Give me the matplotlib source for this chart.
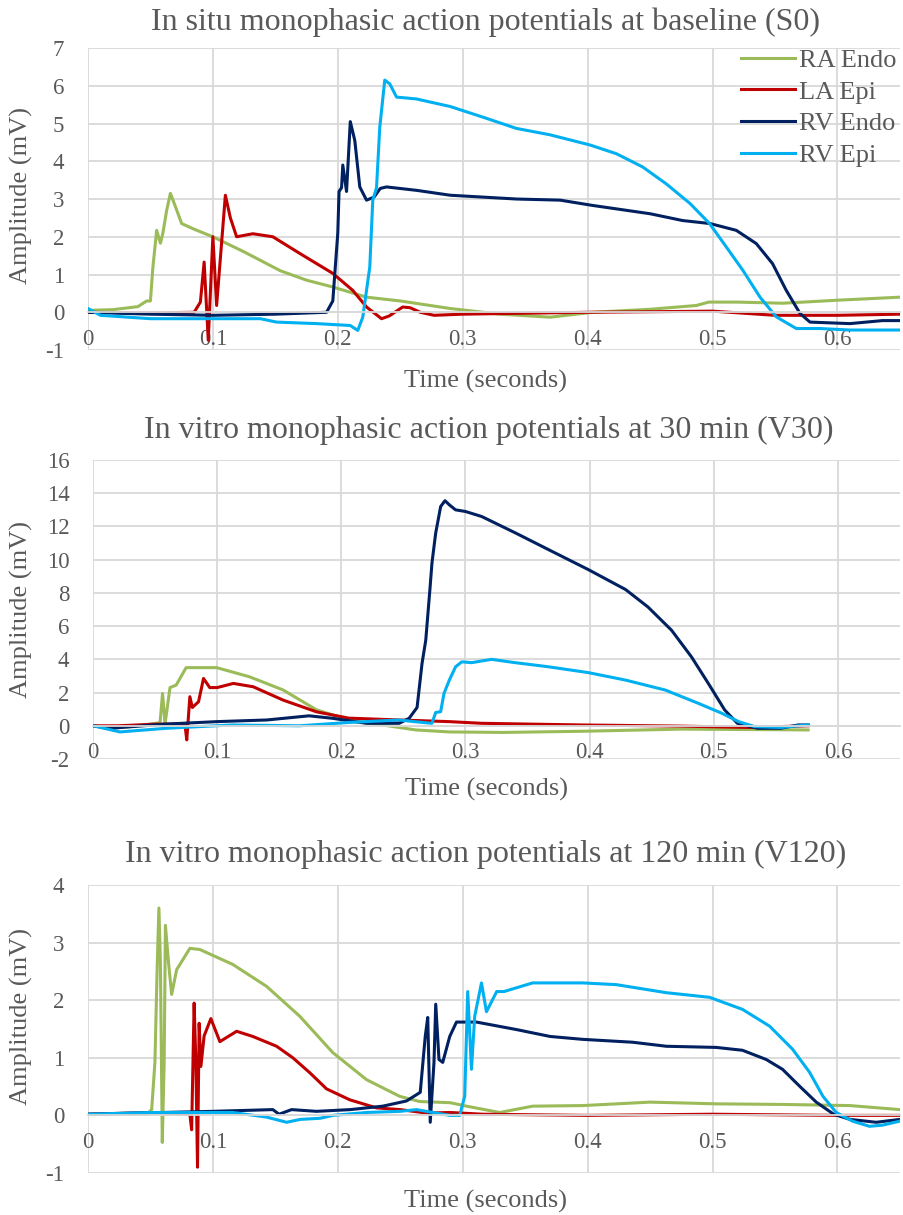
import matplotlib
matplotlib.use('Agg')
import matplotlib.pyplot as plt
import numpy as np

# font ustawienia - Times-like, zwykły minus jak w Excelu
plt.rcParams['font.family'] = ['Liberation Serif', 'DejaVu Serif']
plt.rcParams['axes.unicode_minus'] = False

# ------------------------------------------------------------- dane
series_names = ['RA Endo', 'LA Epi', 'RV Endo', 'RV Epi']
series_colors = ['#9BBB59', '#C00000', '#002060', '#00B0F0']

titles = ['In situ monophasic action potentials at baseline (S0)',
          'In vitro monophasic action potentials at 30 min (V30)',
          'In vitro monophasic action potentials at 120 min (V120)']
x_ticks = [0, 0.1, 0.2, 0.3, 0.4, 0.5, 0.6]
x_tick_labels = ['0', '0.1', '0.2', '0.3', '0.4', '0.5', '0.6']
y_ticks_s0 = [-1, 0, 1, 2, 3, 4, 5, 6, 7]
y_ticks_v30 = [-2, 0, 2, 4, 6, 8, 10, 12, 14, 16]
y_ticks_v120 = [-1, 0, 1, 2, 3, 4]

# S0 - baseline
s0_ra_t = [0, 0.02, 0.04, 0.047, 0.050, 0.052, 0.055, 0.058, 0.060, 0.063, 0.066, 0.070, 0.075, 0.085, 0.1,
           0.125, 0.154, 0.175, 0.196, 0.223, 0.25, 0.29, 0.33, 0.37, 0.404, 0.45, 0.487, 0.497, 0.52, 0.556,
           0.6, 0.65]
s0_ra_v = [0.05, 0.07, 0.15, 0.3, 0.3, 1.2, 2.17, 1.83, 2.1, 2.7, 3.15, 2.8, 2.35, 2.2, 2.0,
           1.6, 1.1, 0.85, 0.67, 0.4, 0.3, 0.1, -0.05, -0.13, 0.0, 0.08, 0.18, 0.27, 0.27, 0.24,
           0.32, 0.4]
s0_la_t = [0, 0.04, 0.085, 0.09, 0.093, 0.0963, 0.1, 0.103, 0.11, 0.114, 0.119, 0.132, 0.148, 0.17, 0.196,
           0.212, 0.223, 0.235, 0.241, 0.252, 0.258, 0.266, 0.277, 0.3, 0.4, 0.5, 0.55, 0.6, 0.65]
s0_la_v = [0, -0.02, 0.0, 0.27, 1.33, -0.74, 2.0, 0.18, 3.1, 2.5, 2.0, 2.08, 2.0, 1.55, 1.03,
           0.58, 0.14, -0.17, -0.1, 0.14, 0.12, 0.0, -0.08, -0.05, 0.0, 0.03, -0.08, -0.08, -0.05]
s0_rvendo_t = [0, 0.05, 0.1, 0.15, 0.191, 0.196, 0.2, 0.201, 0.203, 0.204, 0.207, 0.21, 0.2136, 0.2176, 0.223,
               0.229, 0.234, 0.239, 0.263, 0.29, 0.343, 0.378, 0.404, 0.45, 0.476, 0.498, 0.519, 0.535, 0.548,
               0.559, 0.57, 0.578, 0.61, 0.636, 0.65]
s0_rvendo_v = [0.0, -0.05, -0.08, -0.05, 0.0, 0.3, 2.1, 3.2, 3.3, 3.9, 3.2, 5.05, 4.55, 3.32, 2.97,
               3.05, 3.28, 3.32, 3.23, 3.1, 3.0, 2.97, 2.83, 2.61, 2.43, 2.35, 2.17, 1.82, 1.29,
               0.58, -0.03, -0.26, -0.3, -0.22, -0.22]
s0_rvepi_t = [0, 0.01, 0.05, 0.1, 0.138, 0.151, 0.183, 0.21, 0.216, 0.22, 0.2256, 0.228, 0.231, 0.2336, 0.2376,
              0.2416, 0.247, 0.263, 0.29, 0.316, 0.343, 0.37, 0.402, 0.423, 0.444, 0.463, 0.482, 0.4976, 0.511,
              0.5245, 0.538, 0.551, 0.567, 0.586, 0.61, 0.65]
s0_rvepi_v = [0.1, -0.08, -0.17, -0.17, -0.17, -0.26, -0.3, -0.35, -0.48, -0.13, 1.2, 2.97, 3.3, 4.9, 6.15,
              6.05, 5.7, 5.65, 5.45, 5.17, 4.87, 4.7, 4.43, 4.2, 3.85, 3.4, 2.88, 2.35, 1.73,
              1.1, 0.4, -0.12, -0.43, -0.43, -0.47, -0.47]

# V30
v30_ra_t = [0, 0.014, 0.03, 0.051, 0.054, 0.056, 0.058, 0.062, 0.067, 0.075, 0.0996, 0.126, 0.153, 0.18,
            0.206, 0.233, 0.26, 0.287, 0.33, 0.394, 0.474, 0.576]
v30_ra_v = [0, -0.15, -0.05, 0.15, 0.2, 1.95, 0.1, 2.3, 2.45, 3.5, 3.5, 2.95, 2.16, 0.96,
            0.35, 0.05, -0.25, -0.37, -0.4, -0.33, -0.2, -0.25]
v30_la_t = [0, 0.02, 0.051, 0.074, 0.0755, 0.078, 0.08, 0.085, 0.089, 0.094, 0.1, 0.113, 0.129, 0.153, 0.18,
            0.206, 0.2466, 0.287, 0.313, 0.394, 0.474, 0.528, 0.576]
v30_la_v = [0, 0.0, 0.1, 0.1, -0.85, 1.75, 1.1, 1.45, 2.85, 2.3, 2.3, 2.55, 2.35, 1.55, 0.84,
            0.46, 0.35, 0.25, 0.15, 0.05, -0.02, -0.1, 0]
v30_rvendo_t = [0, 0.014, 0.058, 0.0996, 0.14, 0.174, 0.193, 0.22, 0.2466, 0.2546, 0.261, 0.265, 0.268, 0.2715,
                0.273, 0.276, 0.28, 0.2835, 0.287, 0.292, 0.3, 0.313, 0.3405, 0.367, 0.399, 0.429, 0.447, 0.466,
                0.482, 0.4956, 0.5088, 0.519, 0.535, 0.554, 0.568, 0.576]
v30_rvendo_v = [0, -0.15, 0.1, 0.25, 0.35, 0.6, 0.45, 0.15, 0.15, 0.45, 1.1, 3.75, 5.15, 8.35,
                9.8, 11.6, 13.2, 13.55, 13.3, 13.0, 12.9, 12.6, 11.6, 10.6, 9.4, 8.2, 7.15, 5.75,
                4.15, 2.55, 0.95, 0.15, -0.15, -0.15, 0.05, 0.05]
v30_rvepi_t = [0, 0.0217, 0.059, 0.112, 0.166, 0.206, 0.2466, 0.2587, 0.273, 0.276, 0.28, 0.2827, 0.287, 0.292,
               0.297, 0.305, 0.321, 0.34, 0.367, 0.399, 0.429, 0.461, 0.4876, 0.506, 0.52, 0.533, 0.554, 0.576]
v30_rvepi_v = [0, -0.37, -0.15, 0.05, 0.0, 0.2, 0.35, 0.25, 0.15, 0.8, 0.85, 1.95, 2.75, 3.55,
               3.85, 3.8, 4.0, 3.8, 3.55, 3.2, 2.75, 2.15, 1.35, 0.77, 0.25, -0.05, -0.1, 0.05]

# V120
v120_ra_t = [0, 0.047, 0.051, 0.0536, 0.0555, 0.0568, 0.058, 0.0595, 0.061, 0.062, 0.0645, 0.067, 0.071, 0.0816,
             0.0896, 0.116, 0.143, 0.1696, 0.196, 0.223, 0.2496, 0.2656, 0.29, 0.303, 0.3296, 0.356, 0.396, 0.45,
             0.503, 0.556, 0.61, 0.65]
v120_ra_v = [0.02, 0.02, 0.1, 0.92, 2.65, 3.6, 2.65, -0.47, 0.92, 3.3, 2.65, 2.1, 2.53, 2.9,
             2.88, 2.62, 2.24, 1.72, 1.09, 0.62, 0.33, 0.24, 0.22, 0.16, 0.05, 0.16, 0.17, 0.23,
             0.2, 0.19, 0.17, 0.1]
v120_la_t = [0, 0.05, 0.0816, 0.083, 0.085, 0.0864, 0.0877, 0.089, 0.0904, 0.093, 0.0984, 0.1056, 0.119, 0.132,
             0.151, 0.164, 0.1776, 0.191, 0.2096, 0.231, 0.25, 0.271, 0.29, 0.316, 0.4, 0.5, 0.6, 0.65]
v120_la_v = [0.02, 0.05, 0.02, -0.25, 1.95, 0.9, -0.9, 1.6, 0.85, 1.38, 1.68, 1.28, 1.46, 1.37,
             1.2, 1.0, 0.74, 0.46, 0.27, 0.13, 0.1, 0.04, 0.05, 0.02, 0.0, 0.02, 0.0, 0.0]
v120_rvendo_t = [0, 0.1, 0.148, 0.153, 0.163, 0.183, 0.21, 0.236, 0.255, 0.266, 0.27, 0.272, 0.274, 0.277, 0.2784,
                 0.281, 0.284, 0.2896, 0.295, 0.311, 0.343, 0.37, 0.396, 0.436, 0.463, 0.503, 0.524, 0.543, 0.556,
                 0.57, 0.583, 0.597, 0.61, 0.631, 0.65]
v120_rvendo_v = [0.02, 0.07, 0.1, 0.02, 0.1, 0.07, 0.1, 0.16, 0.25, 0.4, 1.37, 1.7, -0.12, 0.92, 1.93,
                 0.97, 0.92, 1.37, 1.62, 1.62, 1.49, 1.37, 1.32, 1.27, 1.2, 1.18, 1.13, 0.97, 0.8,
                 0.5, 0.23, 0.02, -0.07, -0.12, -0.07]
v120_rvepi_t = [0, 0.05, 0.116, 0.143, 0.159, 0.17, 0.186, 0.196, 0.223, 0.25, 0.263, 0.276, 0.29, 0.2976, 0.3016,
                0.304, 0.307, 0.3096, 0.315, 0.319, 0.3272, 0.333, 0.356, 0.396, 0.423, 0.463, 0.4976, 0.524,
                0.5456, 0.564, 0.5776, 0.5884, 0.599, 0.612, 0.6256, 0.636, 0.65]
v120_rvepi_v = [0.02, 0.05, 0.05, -0.03, -0.12, -0.07, -0.05, 0.0, 0.05, 0.07, 0.1, 0.05, 0.0, 0.0, 0.33,
                2.15, 0.8, 1.72, 2.3, 1.8, 2.15, 2.15, 2.3, 2.3, 2.27, 2.13, 2.05, 1.84,
                1.55, 1.15, 0.75, 0.33, 0.05, -0.1, -0.19, -0.17, -0.1]

# ------------------------------------------------------------- wykres
text_gray = '#595959'
grid_gray = '#D9D9D9'

fig = plt.figure(figsize=(9.04, 12.15), dpi=100)

# pozycje osi [left, bottom, width, height] w ułamkach figury
ax1 = fig.add_axes([0.0973, 0.7119, 0.8982, 0.2486])
ax2 = fig.add_axes([0.1029, 0.3753, 0.8927, 0.2461])
ax3 = fig.add_axes([0.0973, 0.0346, 0.8982, 0.2370])

panels = [
    (ax1, [(s0_ra_t, s0_ra_v), (s0_la_t, s0_la_v), (s0_rvendo_t, s0_rvendo_v), (s0_rvepi_t, s0_rvepi_v)],
     y_ticks_s0, 13, (-0.068, 0.51), (0.49, -0.066)),
    (ax2, [(v30_ra_t, v30_ra_v), (v30_la_t, v30_la_v), (v30_rvendo_t, v30_rvendo_v), (v30_rvepi_t, v30_rvepi_v)],
     y_ticks_v30, 16, (-0.074, 0.50), (0.487, -0.064)),
    (ax3, [(v120_ra_t, v120_ra_v), (v120_la_t, v120_la_v), (v120_rvendo_t, v120_rvendo_v),
           (v120_rvepi_t, v120_rvepi_v)],
     y_ticks_v120, 16.5, (-0.068, 0.545), (0.49, -0.058)),
]

for i, (ax, data, yticks, tpad, ylab_pos, xlab_pos) in enumerate(panels):
    for (t, v), name, col in zip(data, series_names, series_colors):
        ax.plot(t, v, color=col, lw=2.2, label=name, solid_joinstyle='round')

    ax.set_xlim(0, 0.65)
    ax.set_ylim(yticks[0], yticks[-1])
    ax.set_xticks(x_ticks)
    ax.set_xticklabels(x_tick_labels)
    ax.set_yticks(yticks)
    ax.grid(True, color=grid_gray, lw=1.3)
    ax.set_axisbelow(True)

    # oś X przecina w zerze, etykiety tuż pod nią
    for s in ['top', 'right', 'left']:
        ax.spines[s].set_visible(False)
    ax.spines['bottom'].set_position(('data', 0))
    ax.spines['bottom'].set_color(grid_gray)
    ax.spines['bottom'].set_linewidth(1.3)
    ax.tick_params(axis='both', length=0, labelsize=16.5, labelcolor=text_gray)
    ax.tick_params(axis='x', pad=12)
    ax.tick_params(axis='y', pad=17)

    ax.set_title(titles[i], fontsize=23, color=text_gray, pad=tpad, x=0.49)
    ax.set_ylabel('Amplitude (mV)', fontsize=19, color=text_gray)
    ax.yaxis.set_label_coords(*ylab_pos)
    ax.set_xlabel('Time (seconds)', fontsize=19, color=text_gray)
    ax.xaxis.set_label_coords(*xlab_pos)

leg = ax1.legend(loc='upper right', bbox_to_anchor=(0.9963, 0.998), frameon=False, fontsize=19,
                 handlelength=2.05, handletextpad=0.15, labelspacing=0.31, borderpad=0, borderaxespad=0)
for txt in leg.get_texts():
    txt.set_color(text_gray)

plt.savefig('out.png', dpi=100)
